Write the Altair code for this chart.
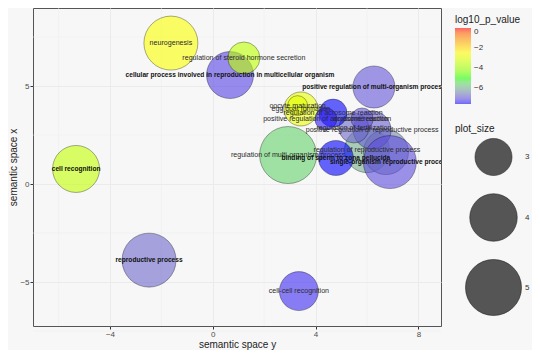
import altair as alt
import pandas as pd

# ---- data ----
descriptions = [
    "neurogenesis",
    "reproductive process",
    "cell recognition",
    "cell-cell recognition",
    "regulation of multi-organism process",
    "cellular process involved in reproduction in multicellular organism",
    "regulation of steroid hormone secretion",
    "positive regulation of multi-organism process",
    "egg coat formation",
    "oocyte maturation",
    "regulation of reproductive process",
    "",
    "positive regulation of reproductive process",
    "regulation of fertilization",
    "acrosome reaction",
    "single-organism reproductive process",
    "binding of sperm to zona pellucida",
    "regulation of acrosome reaction",
    "positive regulation of acrosome reaction",
]
plot_X = [-1.63, -2.48, -5.32, 3.35, 2.93, 0.67, 1.21, 6.27, 3.43, 3.30,
          6.00, 6.74, 6.20, 5.49, 5.81, 6.89, 4.79, 4.68, 4.40]
plot_Y = [7.19, -3.88, 0.77, -5.46, 1.48, 5.56, 6.43, 4.95, 3.83, 4.00,
          1.73, 1.63, 2.76, 2.86, 3.32, 1.12, 1.33, 3.62, 3.32]
plot_size = [4.75, 4.75, 3.95, 3.17, 5.13, 3.95, 2.61, 3.45, 2.76, 1.90,
             3.74, 3.74, 3.08, 2.47, 2.00, 4.63, 2.84, 2.34, 2.00]
log10_p_value = [-2.6, -6.8, -3.5, -7.4, -5.6, -7.2, -3.6, -7.0, -2.9, -3.0,
                 -6.0, -6.4, -6.9, -6.8, -7.0, -7.1, -7.6, -7.6, -7.5]

x_ticks = [-4, 0, 4, 8]
y_ticks = [-5, 0, 5]
x_minor = [-6, -2, 2, 6]
y_minor = [-7.5, -2.5, 2.5, 7.5]
color_ticks = [0, -2, -4, -6]
size_ticks = [3, 4, 5]

df = pd.DataFrame({
    "description": descriptions,
    "plot_X": plot_X,
    "plot_Y": plot_Y,
    "plot_size": plot_size,
    "log10_p_value": log10_p_value,
})

dark_labels = [
    "cellular process involved in reproduction in multicellular organism",
    "positive regulation of multi-organism process",
    "binding of sperm to zona pellucida",
    "single-organism reproductive process",
    "cell recognition",
    "reproductive process",
]
df["dark"] = df["description"].isin(dark_labels)

FONT = "Liberation Sans"
x_scale = alt.Scale(domain=[-6.996, 8.88], nice=False, zero=False)
y_scale = alt.Scale(domain=[-7.24, 8.98], nice=False, zero=False)
pmin = -7.6
color_scale = alt.Scale(domain=[pmin, pmin * 2 / 3, pmin / 3, 0],
                        range=["#0000FF", "#00FF00", "#FFFF00", "#FF0000"],
                        interpolate="lab")
# vega symbol size = (diameter)^2
size_scale = alt.Scale(domain=[2, 5], range=[485, 3137], zero=False)

x_axis = alt.Axis(
    values=x_ticks, title="semantic space y", grid=True, gridColor="#EBEBEB",
    gridWidth=1, domain=False, tickSize=3, tickColor="#333333",
    labelColor="#4D4D4D", labelFontSize=8, labelFont=FONT, labelPadding=1,
    titleFont=FONT, titleFontSize=10, titleFontWeight="normal",
    titleColor="#222222", titlePadding=1)
y_axis = alt.Axis(
    values=y_ticks, title="semantic space x", grid=True, gridColor="#EBEBEB",
    gridWidth=1, domain=False, tickSize=3, tickColor="#333333",
    labelColor="#4D4D4D", labelFontSize=8, labelFont=FONT, labelPadding=1,
    titleFont=FONT, titleFontSize=10, titleFontWeight="normal",
    titleColor="#222222", titlePadding=1)

minor_v = alt.Chart(pd.DataFrame({"v": x_minor})).mark_rule(
    color="#EDEDED", strokeWidth=0.5
).encode(x=alt.X("v:Q", scale=x_scale, axis=x_axis))

minor_h = alt.Chart(pd.DataFrame({"v": y_minor})).mark_rule(
    color="#EDEDED", strokeWidth=0.5
).encode(y=alt.Y("v:Q", scale=y_scale, axis=y_axis))

points = alt.Chart(df).mark_circle(
    fillOpacity=0.6, stroke="black", strokeOpacity=0.55, strokeWidth=0.6, clip=True
).encode(
    x=alt.X("plot_X:Q", scale=x_scale, axis=x_axis),
    y=alt.Y("plot_Y:Q", scale=y_scale, axis=y_axis),
    color=alt.Color("log10_p_value:Q", scale=color_scale, legend=alt.Legend(
        title="log10_p_value", orient="none", legendX=422, legendY=7,
        values=color_ticks, gradientLength=76, gradientThickness=16,
        gradientOpacity=0.6, gradientStrokeWidth=0, direction="vertical",
        titleFont=FONT, titleFontSize=10, titleFontWeight="normal",
        titleColor="#222222", labelFont=FONT, labelFontSize=8,
        labelColor="#333333", labelOffset=3, titlePadding=3)),
    size=alt.Size("plot_size:Q", scale=size_scale, legend=alt.Legend(
        title="plot_size", orient="none", legendX=422, legendY=116,
        values=size_ticks, format=".0f",
        symbolFillColor="#555555", symbolStrokeColor="#222222",
        symbolStrokeWidth=0.6, symbolOpacity=1, symbolType="circle",
        labelOffset=3, symbolOffset=10, rowPadding=15,
        titleFont=FONT, titleFontSize=10, titleFontWeight="normal",
        titleColor="#222222", labelFont=FONT, labelFontSize=8,
        labelColor="#333333", titlePadding=4)),
)

labels_light = alt.Chart(df).transform_filter(
    "datum.description != '' && !datum.dark"
).mark_text(font=FONT, fontSize=7.1, color="#2b2b2b", clip=True).encode(
    x=alt.X("plot_X:Q", scale=x_scale, axis=x_axis),
    y=alt.Y("plot_Y:Q", scale=y_scale, axis=y_axis),
    text="description:N",
)

labels_dark = alt.Chart(df).transform_filter(
    "datum.dark"
).mark_text(font=FONT, fontSize=6.6, fontWeight="bold", color="#111111", clip=True).encode(
    x=alt.X("plot_X:Q", scale=x_scale, axis=x_axis),
    y=alt.Y("plot_Y:Q", scale=y_scale, axis=y_axis),
    text="description:N",
)

chart = alt.layer(minor_v, minor_h, points, labels_light, labels_dark).properties(
    width=408, height=318,
    autosize=alt.AutoSizeParams(type="none"),
    padding={"left": 25, "top": 0, "right": 91, "bottom": 24},
    background="#F7F7F7",
).configure_view(stroke="#555555", strokeWidth=1)

chart.save("out.html", embed_options={"renderer": "svg", "actions": False})
